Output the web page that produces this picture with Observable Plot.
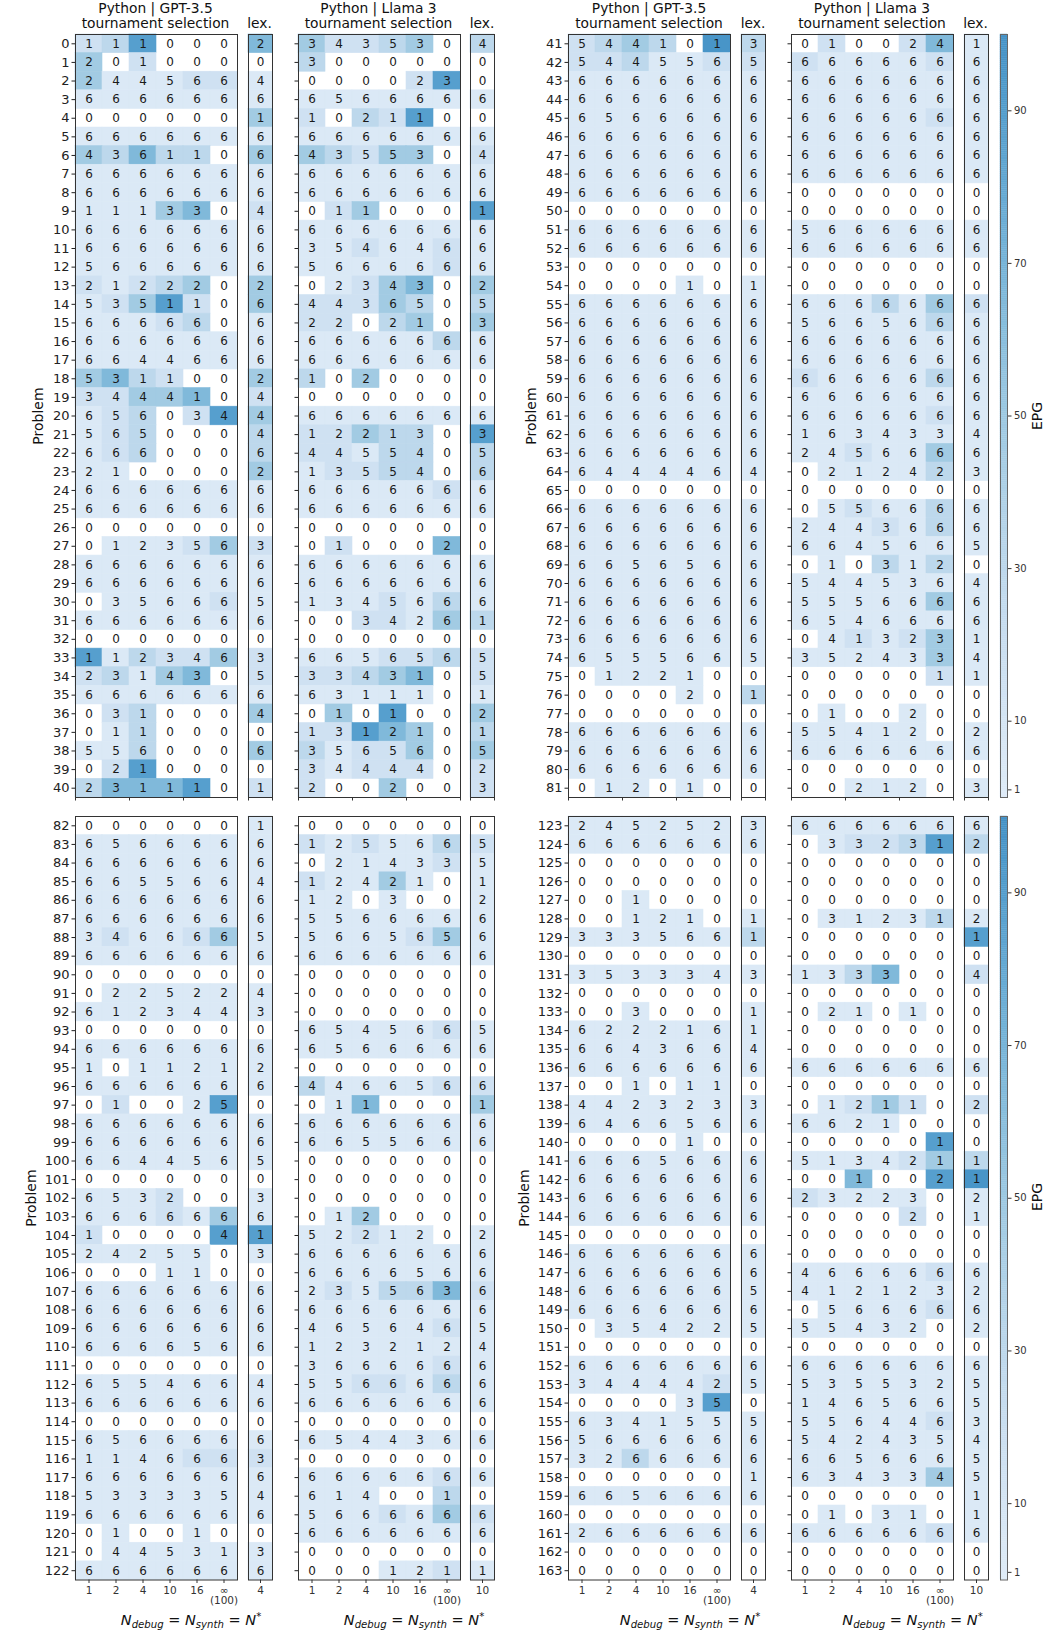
<!DOCTYPE html>
<html><head><meta charset="utf-8">
<script src="https://cdn.jsdelivr.net/npm/d3@7"></script>
<script src="https://cdn.jsdelivr.net/npm/@observablehq/plot@0.6"></script>
<style>
body{margin:0;background:#fff;}
#fig{position:relative;width:1053px;height:1632px;font-family:"DejaVu Sans",sans-serif;color:#111;overflow:hidden;}
.lbl{position:absolute;transform:translate(-50%,-50%);white-space:nowrap;line-height:1;}
.rot{transform:translate(-50%,-50%) rotate(-90deg);}
.xl sub{font-size:70%;vertical-align:-0.3em;}
.xl sup{font-size:70%;vertical-align:0.55em;}
</style></head><body><div id="fig"></div><script>
// ---- data ----
// settings on the x axis
const settings = ["1","2","4","10","16","∞"];
const tickLabels = ["1","2","4","10","16","∞\n(100)"];
const lexLabels = {gpt: "4", llama: "10"};
// per problem: 6 tournament-selection counts + lex. count (digits)
const gptCounts = [
"1110002","2010000","2445664","6666666","0000001","6666666","4361106","6666666","6666666","1113304",
"6666666","6666666","5666666","2122202","5351106","6666606","6666666","6644666","5311002","3444104",
"6560344","5650004","6660006","2100002","6666666","6666666","0000000","0123563","6666666","6666666",
"0356665","6666666","0000000","1123463","2314305","6666666","0310004","0110000","5560006","0210000",
"2311101","5441013","5445565","6666666","6666666","6566666","6666666","6666666","6666666","6666666",
"0000000","6666666","6666666","0000000","0000101","6666666","6666666","6666666","6666666","6666666",
"6666666","6666666","6666666","6666666","6444464","0000000","6666666","6666666","6666666","6656566",
"6666666","6666666","6666666","6666666","6555665","0122100","0000201","0000000","6666666","6666666",
"6666666","0120100","0000001","6566666","6666666","6655664","6666666","6666666","3466665","6666666",
"0000000","0225224","6123443","0000000","6666666","1011212","6666666","0100250","6666666","6666666",
"6644565","0000000","6532003","6666666","1000041","2425503","0001100","6666666","6666666","6666666",
"6666566","0000000","6554664","6666666","0000000","6566666","1146663","6666666","5333354","6666666",
"0100100","0445313","6666666","2452523","6666666","0000000","0000000","0010000","0012101","3335661",
"0000000","3533343","0000000","0030001","6222161","6643664","6666666","0010110","4423233","6466566",
"0000100","6665666","6666666","6666666","6666666","0000000","6666666","6666666","6666665","6666666",
"0354225","0000000","6666666","3444425","0000350","6341555","5666666","3266666","0000001","6656666",
"0000000","2666666","0000000","0000000"];
// shade class read for each cell (0 = white)
const gptShade = [
"2360005","4020000","4111221","1111111","0000004","1111111","4353304","1111111","1111111","1114502",
"1111111","1111111","1111111","2123404","1246204","1112301","1111111","1111111","4532004","2244502",
"1230264","1230003","1230003","1100004","1111111","1111111","0000000","0111242","1111111","1111111",
"0111121","1111111","0000000","6132242","2314502","1111111","0230004","0130000","1130004","0260000",
"3555602","2343073","2231122","1111111","1111111","1111111","1111111","1111111","1111111","1111111",
"0000000","1111111","1111111","0000000","0000101","1111111","1111111","1111111","1111111","1111111",
"1111111","1111111","1111111","1111111","1111111","0000000","1111111","1111111","1111111","1111111",
"1111111","1111111","1111111","1111111","1111111","0111100","0000103","0000000","1111111","1111111",
"1111111","0110100","0000001","1111111","1111111","1111111","1111111","1111111","1211241","1111111",
"0000000","0111111","1111111","0000000","1111111","1011111","1111111","0200160","1111111","1111111",
"1111111","0000000","1112001","1112141","2000066","1111101","0001100","1111111","1111111","1111111",
"1111111","0000000","1111111","1111111","0000000","1111111","1111222","1111111","1111111","1111111",
"0100100","0111111","1111111","1111111","1111111","0000000","0000000","0010000","0011101","1111113",
"0000000","1111111","0000000","0010001","1111111","1111111","1111111","0010110","1111111","1111111",
"0000100","1111111","1111111","1111111","1111111","0000000","1111111","1111111","1111111","1111111",
"0111111","0000000","1111111","1111121","0000160","1111111","1111111","1131111","0000001","1111111",
"0000000","1111111","0000000","0000000"];
const llamaCounts = [
"3435304","3000000","0000230","6566666","1021100","6666666","4355304","6666666","6666666","0110001",
"6666666","3546466","5666666","0234302","4436505","2202103","6666666","6666666","1020000","0000000",
"6666666","1221303","4455405","1355406","6666666","6666666","0000000","0100020","6666666","6666666",
"1345666","0034261","0000000","6656565","3343105","6311101","0101002","1312101","3565605","3444402",
"2002003","0100241","6666666","6666666","6666666","6666666","6666666","6666666","6666666","0000000",
"0000000","5666666","6666666","0000000","0000000","6666666","5665666","6666666","6666666","6666666",
"6666666","6666666","1634334","2456666","0212423","0000000","0556666","2443666","6645665","0103120",
"5445364","5556666","6546666","0413231","3524334","0000011","0000000","0100200","5541202","6666666",
"0000000","0021203","0000000","1255665","0214335","1242101","1203002","5566666","5665656","6666666",
"0000000","0000000","0000000","6545665","6566666","0000000","4466566","0110001","6666666","6655666",
"0000000","0000000","0000000","0120000","5221202","6666666","6666566","2355636","6666666","4656465",
"1232124","3666666","5566666","6666666","0000000","6544366","0000000","6666666","6140010","5666666",
"6666666","0000000","0001211","6666666","0332312","0000000","0000000","0000000","0312312","0000001",
"0000000","1333004","0000000","0210100","0000000","0000000","6666666","0000000","0121102","6621000",
"0000010","5134211","0010021","2322302","0000201","0000000","0000000","4666666","4121232","0566666",
"5543202","0000000","6666666","5355325","1465665","5564463","5424354","6656665","6343345","0000001",
"0103101","6666666","0000000","0000000"];
const llamaShade = [
"4223403","3000000","0000260","1111111","2032600","1111111","4324402","1111111","1111111","0240006",
"1111111","1121121","1111121","0124504","2224303","2203404","1111131","1111111","3040000","0000000",
"1111111","2243306","2213303","1223303","1111121","1111111","0000000","0200050","1111111","1111111",
"1112131","0022143","0000000","1112232","2234502","1111101","0406004","2265403","3122404","2122232",
"2004002","0200251","2111121","1111111","1111111","1111121","1111111","1111111","1111111","0000000",
"0000000","1111111","1111111","0000000","0000000","1113142","1111131","1111111","1111111","2111131",
"1111111","1111121","1111111","1121141","0111131","0000000","0121131","1112131","1111111","0103130",
"1111111","1111141","1111111","0121241","1111141","0000021","0000000","0100100","1111101","1111111",
"0000000","0011101","0000000","2121132","0111121","2114101","1101001","1111111","1111241","1111111",
"0000000","0000000","0000000","1111121","1111111","0000000","3111122","0150004","1111111","1111111",
"0000000","0000000","0000000","0140000","1121101","1111111","1111111","1213352","1111111","1111121",
"1111111","1111121","1122131","1111111","0000000","1111111","0000000","1111121","1110030","1112142",
"1111111","0000000","0001121","1111111","0122363","0000000","0000000","0000000","0111131","0000006",
"0000000","1135002","0000000","0110100","0000000","0000000","1111111","0000000","0124202","1111000",
"0000060","1111243","0050067","2111101","0000201","0000000","0000000","1111121","1111111","0111121",
"1111101","0000000","1111111","1111111","1111111","1111121","1111111","1111111","1111141","0000001",
"0101101","1111121","0000000","0000000"];
// estimated EPG for each shade class (class 0 = no colour)
const epgByShade = [null, 3, 15, 30, 47, 65, 88, 97];
const colorbarTicks = [1, 10, 30, 50, 70, 90];

// ---- drawing ----
const fig = document.getElementById("fig");
const FONT = "DejaVu Sans, sans-serif";
const colorScale = {type: "linear", domain: [0, 100], interpolate: t => d3.interpolateBlues(0.125 + 0.5 * t)};

function place(svg, left, top) {
  svg.style.position = "absolute";
  svg.style.left = left + "px";
  svg.style.top = top + "px";
  svg.style.maxWidth = "none";
  fig.appendChild(svg);
}
function label(html, x, y, size, cls = "") {
  const d = document.createElement("div");
  d.className = "lbl " + cls;
  d.style.left = x + "px"; d.style.top = y + "px"; d.style.fontSize = size + "px";
  d.innerHTML = html;
  fig.appendChild(d);
}

function panel({ids, counts, shades, cols, x0, y0, w, h, yTicks, yLabels, bottom, xLabels}) {
  const ml = 45, mr = 2, mt = 2, mb = 40;
  const data = [];
  ids.forEach(p => cols.forEach((c, i) => {
    const n = +counts[p][c];
    data.push({p, i, n, epg: n === 0 ? null : epgByShade[+shades[p][c]]});
  }));
  const nc = cols.length;
  const marks = [
    Plot.barX(data, {x1: "i", x2: d => d.i + 1, y: "p", fill: "epg", stroke: "epg", strokeWidth: 0.6}),
    Plot.text(data, {x: d => d.i + 0.5, y: "p", text: "n", fontSize: 12, fill: "#1a1a1a"})
  ];
  if (yTicks) marks.push(Plot.axisY({label: null, tickSize: 3.5, tickPadding: 2.5, fontSize: 13, color: "#222",
      tickFormat: yLabels ? (d => String(d)) : (() => "")}));
  if (bottom) {
    marks.push(Plot.axisX({label: null, ticks: d3.range(nc).map(i => i + 0.5), tickSize: 3.5, tickPadding: 3, fontSize: 10.5,
      color: "#333", tickFormat: d => xLabels[Math.floor(d)]}));
  } else {
    marks.push(Plot.axisX({label: null, ticks: nc === 6 ? [0, 2, 4, 6] : [0, 1], tickSize: 3.5, tickFormat: () => "", color: "#333"}));
  }
  marks.push(Plot.frame({stroke: "#333", strokeWidth: 1}));
  const svg = Plot.plot({
    width: w + ml + mr, height: h + mt + mb,
    marginLeft: ml, marginRight: mr, marginTop: mt, marginBottom: mb,
    x: {domain: [0, nc], axis: null, label: null},
    y: {type: "band", domain: ids, padding: 0, round: false, axis: null, label: null},
    color: colorScale,
    style: {fontFamily: FONT, background: "transparent", overflow: "visible"},
    marks
  });
  place(svg, x0 - ml, y0 - mt);
}

function colorbar(x0, y0, h) {
  const ml = 2, mr = 40, mt = 2, mb = 2, w = 7;
  const step = 0.25;
  const vals = d3.range(0, 100, step);
  const svg = Plot.plot({
    width: w + ml + mr, height: h + mt + mb,
    marginLeft: ml, marginRight: mr, marginTop: mt, marginBottom: mb,
    x: {domain: [0, 1], axis: null, label: null},
    y: {domain: [0, 100], axis: null, label: null},
    color: colorScale,
    style: {fontFamily: FONT, background: "transparent", overflow: "visible"},
    marks: [
      Plot.rect(vals, {x1: 0, x2: 1, y1: d => d, y2: d => d + step, fill: d => d, stroke: d => d, strokeWidth: 0.4}),
      Plot.axisY({label: null, anchor: "right", ticks: colorbarTicks, tickSize: 3.5, tickPadding: 3, fontSize: 10, color: "#333"}),
      Plot.frame({stroke: "#666", strokeWidth: 1})
    ]
  });
  place(svg, x0 - ml, y0 - mt);
}

const W = 162, LW = 24;
const quads = [
  {from: 0, to: 41, x: 74.5, y0: 34, y1: 797, bottom: false, left: true},
  {from: 41, to: 82, x: 568, y0: 34, y1: 797, bottom: false, left: false},
  {from: 82, to: 123, x: 74.5, y0: 816, y1: 1579.5, bottom: true, left: true},
  {from: 123, to: 164, x: 568, y0: 816, y1: 1579.5, bottom: true, left: false}
];
const main = [0, 1, 2, 3, 4, 5], lex = [6];

for (const q of quads) {
  const ids = d3.range(q.from, q.to);
  const h = q.y1 - q.y0;
  const xs = {g: q.x, gl: q.x + 173, l: q.x + 223, ll: q.x + 395.5};
  panel({ids, counts: gptCounts, shades: gptShade, cols: main, x0: xs.g, y0: q.y0, w: W, h,
    yTicks: true, yLabels: true, bottom: q.bottom, xLabels: tickLabels});
  panel({ids, counts: gptCounts, shades: gptShade, cols: lex, x0: xs.gl, y0: q.y0, w: LW, h,
    yTicks: false, bottom: q.bottom, xLabels: [lexLabels.gpt]});
  panel({ids, counts: llamaCounts, shades: llamaShade, cols: main, x0: xs.l, y0: q.y0, w: W, h,
    yTicks: true, yLabels: false, bottom: q.bottom, xLabels: tickLabels});
  panel({ids, counts: llamaCounts, shades: llamaShade, cols: lex, x0: xs.ll, y0: q.y0, w: LW, h,
    yTicks: false, bottom: q.bottom, xLabels: [lexLabels.llama]});

  const midY = (q.y0 + q.y1) / 2;
  const probX = q.left ? (q.bottom ? 31 : 38) : (q.bottom ? 524 : 531);
  label("Problem", probX, midY, 14, "rot");

  if (!q.bottom) {
    label("Python | GPT-3.5", xs.g + W / 2, 8.5, 13.8);
    label("tournament selection", xs.g + W / 2, 23.5, 13.8);
    label("lex.", xs.gl + LW / 2, 23.5, 13.8);
    label("Python | Llama 3", xs.l + W / 2, 8.5, 13.8);
    label("tournament selection", xs.l + W / 2, 23.5, 13.8);
    label("lex.", xs.ll + LW / 2, 23.5, 13.8);
  } else {
    const xl = '<i>N</i><sub><i>debug</i></sub> = <i>N</i><sub><i>synth</i></sub> = <i>N</i><sup>*</sup>';
    label(xl, q.left ? 191 : 690, 1621, 14.5, "xl");
    label(xl, q.left ? 414 : 912.5, 1621, 14.5, "xl");
  }
}
colorbar(1000, 34, 763);
colorbar(1000, 816, 763.5);
label("EPG", 1037, 416, 14, "rot");
label("EPG", 1037, 1197, 14, "rot");
</script></body></html>
